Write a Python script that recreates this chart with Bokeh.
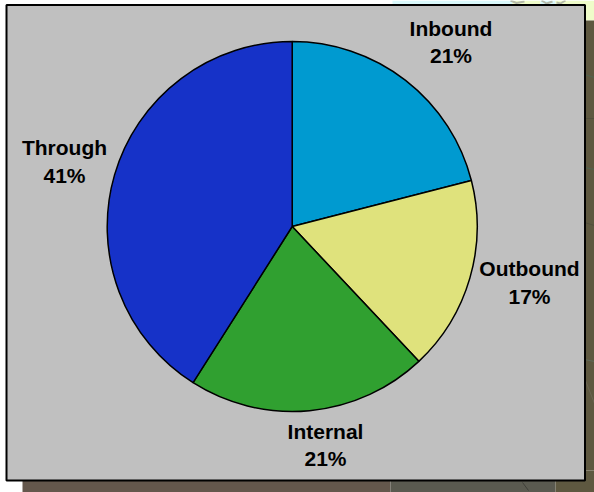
from math import pi

import numpy as np
from bokeh.core.properties import value
from bokeh.embed import file_html
from bokeh.models import ColumnDataSource, Range1d
from bokeh.plotting import figure
from bokeh.resources import INLINE

# Share of trips by direction, clockwise from twelve o'clock
categories = ["Inbound", "Outbound", "Internal", "Through"]
shares = [21, 17, 21, 41]
slice_colors = ["#009ad0", "#dfe27c", "#30a030", "#1632c8"]

WIDTH, HEIGHT = 594, 492


def flip(y):
    """Convert a distance from the top edge to the upward y axis."""
    return HEIGHT - y


p = figure(
    width=WIDTH, height=HEIGHT, output_backend="svg", toolbar_location=None,
    x_range=Range1d(0, WIDTH), y_range=Range1d(0, HEIGHT),
    min_border=0, outline_line_color=None, background_fill_color="#ffffff",
    border_fill_color="#ffffff",
)
p.axis.visible = False
p.grid.visible = False

# Pale map tints behind the top right of the panel
p.quad(left=[392, 512, 540, 555], right=[512, 540, 555, 594],
       top=[flip(0)] * 4, bottom=[flip(20)] * 4,
       fill_color=["#d9f8fb", "#effcc9", "#d9f8fb", "#effcc9"], line_color=None)
p.multi_line(xs=[[510, 516, 524], [541, 546, 552], [556, 560, 565]],
             ys=[[flip(0), flip(2.5), flip(1)], [flip(0), flip(3), flip(1)], [flip(2), flip(3), flip(0)]],
             line_color="#b4b8a8", line_width=2)

# Drop shadow, tinted by the map underneath it
p.quad(left=[22, 390, 555, 584], right=[390, 555, 594, 594],
       top=[flip(470), flip(470), flip(470), flip(20)],
       bottom=[0, 0, 0, flip(470)],
       fill_color=["#64574c", "#5a5a50", "#5e5840", "#5e5840"], line_color=None)

# Faint map roads showing through the shadow
p.multi_line(xs=[[584, 594], [584, 594], [584, 594], [584, 594], [584, 594], [585, 594]],
             ys=[[flip(74), flip(77)], [flip(118), flip(118)], [flip(167), flip(169)],
                 [flip(222), flip(225)], [flip(359), flip(361)], [flip(380), flip(403)]],
             line_color=["#4f6450", "#524f3c", "#4f6450", "#524f3c", "#5f6a5a", "#6a6552"],
             line_width=1)
p.line(x=[522, 528], y=[flip(482), flip(490)], line_color="#3f3f38", line_width=1)

# Chart panel
p.quad(left=[6], right=[584.5], top=[flip(4.5)], bottom=[flip(480)],
       fill_color="#c0c0c0", line_color="#000000", line_width=2)

# Pie slices
fractions = np.array(shares) / sum(shares)
ends = np.cumsum(fractions)
starts = ends - fractions
source = ColumnDataSource(dict(
    category=categories,
    start=pi / 2 - 2 * pi * starts,
    end=pi / 2 - 2 * pi * ends,
    color=slice_colors,
))
p.wedge(x=291.7, y=flip(226), radius=185, start_angle="start", end_angle="end",
        direction="clock", fill_color="color", line_color="#000000", line_width=1.5,
        source=source)

# Two-line labels: category name above its percentage
label_x = [450.5, 529, 325, 64]
name_y = [28, 268, 431, 147]
pct_y = [55, 296, 458, 175]
for names, ys in ((categories, name_y), ([f"{s}%" for s in shares], pct_y)):
    p.text(x=label_x, y=[flip(v) for v in ys], text=names,
           text_font=value("Liberation Sans"), text_font_style="bold",
           text_font_size="21px", text_color="#000000",
           text_align="center", text_baseline="middle")

open("out.html", "w").write(file_html(p, INLINE))
